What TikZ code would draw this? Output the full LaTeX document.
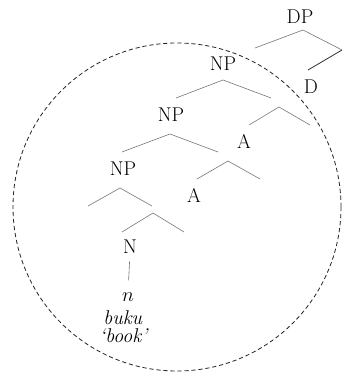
\documentclass[tikz,border=0pt]{standalone}
\usepackage{amsmath,amssymb}
\usepackage{tikz}

\tikzset{
	branch/.style={black!55, line width=0.5pt},
	label/.style={anchor=base, inner sep=0pt, font=\fontsize{17}{20}\selectfont}
}

\begin{document}
\begin{tikzpicture}[x=0.3mm, y=-0.3mm]
	\useasboundingbox (0,0) rectangle (342,373);
	% the circled part of the tree
	\draw[black!85, line width=0.7pt, dash pattern=on 3.6pt off 2.4pt] (177,207) circle[radius=164];
	% labels
	\node[label] (dp) at (300,24) {DP};
	\node[label] (np1) at (223,71) {NP};
	\node[label] (d) at (311,94) {D};
	\node[label] (np2) at (171,122) {NP};
	\node[label] (a1) at (244,149) {A};
	\node[label] (np3) at (123,176) {NP};
	\node[label] (a2) at (194,203) {A};
	\node[label] (noun) at (130,253) {N};
	\node[label] (morph) at (128,301) {$n$};
	\node[label] (word) at (123,324) {\textit{buku}};
	\node[label] (gloss) at (124,342) {\textit{`book'}};
	% branches
	\draw[branch] (255,48) -- (303,30) -- (342,50);
	\draw[black!80, line width=0.7pt] (308,70) -- (342,50);
	\foreach \ax/\ay/\lx/\rx/\ey in {223/80/176/271/98, 279/107/249/310/125, 170/134/122/218/152, 228/161/197/260/179, 120/188/88/152/206, 153/213/122/184/232} {
		\draw[branch] (\lx,\ey) -- (\ax,\ay) -- (\rx,\ey);
	}
	\draw[branch, shorten <=7pt, shorten >=10pt] (noun.south) -- (morph.north);
\end{tikzpicture}
\end{document}
